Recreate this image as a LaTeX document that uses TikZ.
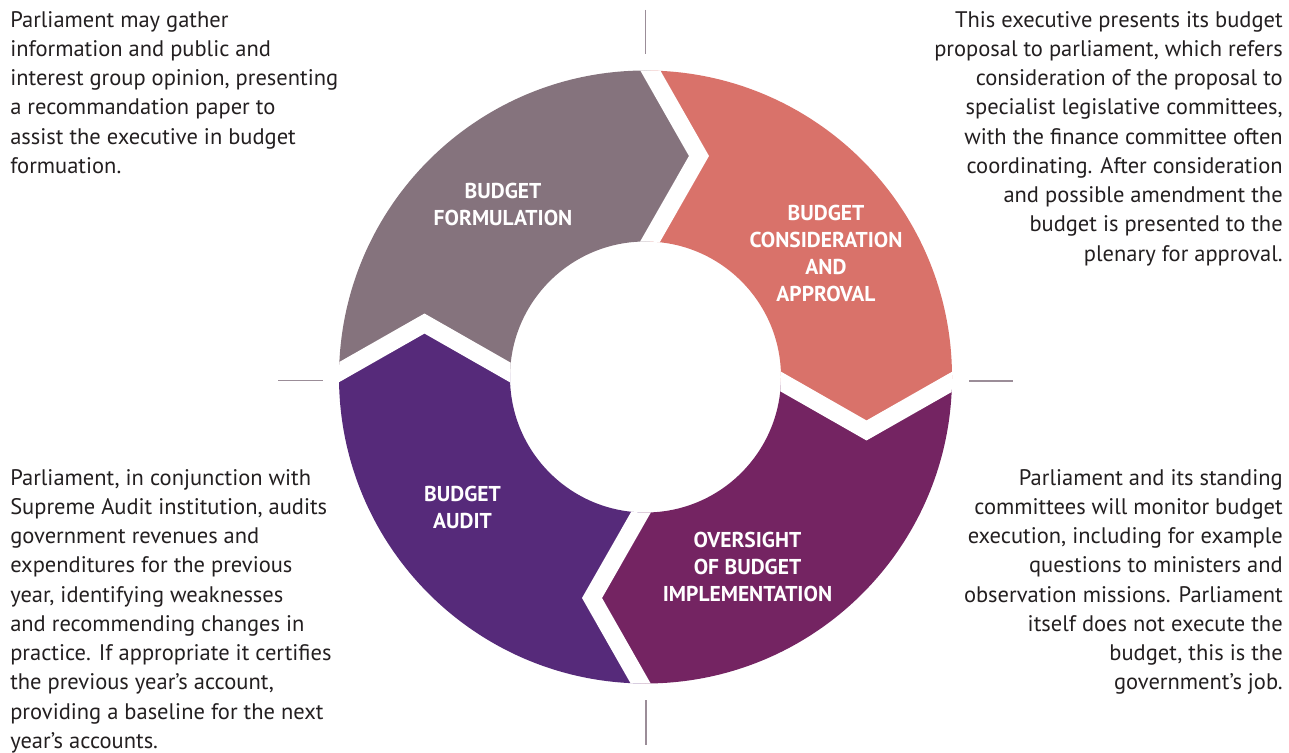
\documentclass[tikz,border=0pt]{standalone}
\usepackage{fontspec}
\setmainfont{PT Sans}
\usepackage{tikz}
\usetikzlibrary{positioning}
\definecolor{FormGray}{HTML}{85737D}
\definecolor{ApprovalRed}{HTML}{D9726A}
\definecolor{OversightPlum}{HTML}{742462}
\definecolor{AuditPurple}{HTML}{562A7A}
\definecolor{TickGray}{HTML}{9B8D98}
\definecolor{NoteText}{HTML}{231F20}

\begin{document}
\begin{tikzpicture}[
  x=0.025cm, y=-0.025cm,
  gap/.style={draw=white, line width=0.435cm, line join=miter},
  lbl/.style={text=white, align=center, inner sep=0pt, font=\bfseries\fontsize{15.3}{19.1}\selectfont},
  note/.style={text=NoteText, inner sep=0pt, font=\fontsize{16}{20.8}\selectfont},
  tick/.style={draw=TickGray, line width=1pt}
]
\useasboundingbox (0,0) rectangle (1289,753);

% ring of four arrow segments, chevrons at the quarter divisions
\begin{scope}[shift={(645.5,377)}, yscale=-1, even odd rule]
  \clip (0,0) circle (306.5) (0,0) circle (135.5);
  \foreach \a/\c in {180/FormGray, 90/ApprovalRed, 0/OversightPlum, -90/AuditPurple}{
    \fill[\c] ({\a+12}:94.8) -- ({\a-13.6}:227.4) -- ({\a+3.2}:349.8) -- ({\a-45}:480)
      -- ({\a-86.8}:349.8) -- ({\a-103.6}:227.4) -- ({\a-78}:94.8) -- cycle;
  }
  \foreach \a in {180,90,0,-90}
    \draw[gap] ({\a+12}:94.8) -- ({\a-13.6}:227.4) -- ({\a+3.2}:349.8);
\end{scope}

% ticks
\draw[tick] (645.7,10) -- (645.7,54);
\draw[tick] (646,700) -- (646,745);
\draw[tick] (278,380.5) -- (323,380.5);
\draw[tick] (969,381) -- (1013,381);

% segment labels
\node[lbl] (formulation) at (503,204.5) {BUDGET\\FORMULATION};
\node[lbl] (approval) at (826,253.4) {BUDGET\\CONSIDERATION\\AND\\APPROVAL};
\node[lbl] (oversight) at (747.5,566.9) {OVERSIGHT\\OF BUDGET\\IMPLEMENTATION};
\node[lbl] (audit) at (462.5,507.7) {BUDGET\\AUDIT};

% notes
\node[note, anchor=north west, align=left] (formnote) at (10,11) {Parliament may gather\\
information and public and\\
interest group opinion, presenting\\
a recommandation paper to\\
assist the executive in budget\\
formuation.};
\node[note, anchor=north east, align=right] (approvalnote) at (1283,11) {This executive presents its budget\\
proposal to parliament, which refers\\
consideration of the proposal to\\
specialist legislative committees,\\
with the finance committee often\\
coordinating. After consideration\\
and possible amendment the\\
budget is presented to the\\
plenary for approval.};
\node[note, anchor=north west, align=left] (auditnote) at (10,469) {Parliament, in conjunction with\\
Supreme Audit institution, audits\\
government revenues and\\
expenditures for the previous\\
year, identifying weaknesses\\
and recommending changes in\\
practice. If appropriate it certifies\\
the previous year’s account,\\
providing a baseline for the next\\
year’s accounts.};
\node[note, anchor=north east, align=right] (oversightnote) at (1283,469) {Parliament and its standing\\
committees will monitor budget\\
execution, including for example\\
questions to ministers and\\
observation missions. Parliament\\
itself does not execute the\\
budget, this is the\\
government’s job.};
\end{tikzpicture}
\end{document}
